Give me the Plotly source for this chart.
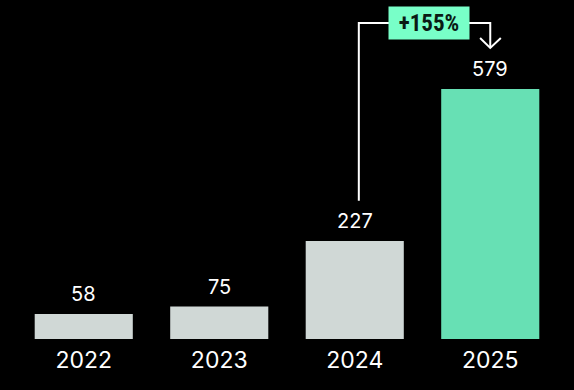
import plotly.graph_objects as go

years = ["2022", "2023", "2024", "2025"]
values = [58, 75, 227, 579]
bar_colors = ["#D0D8D6", "#D0D8D6", "#D0D8D6", "#67E0B4"]
growth_label = "+155%"

fig = go.Figure()
fig.add_trace(go.Bar(
    x=years, y=values, marker=dict(color=bar_colors, line=dict(width=0)),
    width=0.724, hoverinfo="skip",
))

for i, v in enumerate(values):
    fig.add_annotation(x=i, y=v, text=str(v), showarrow=False, yanchor="bottom",
                       yshift=6, font=dict(family="Inter", size=20, color="white"))

# bracket from 2024 to 2025
x0 = 2.03
x1 = 3.0
y_start = values[2] + 93
y_top = 732
y_tip = 674
lw = 2
fig.add_shape(type="path",
              path=f"M {x0},{y_start} L {x0},{y_top} L {x1},{y_top} L {x1},{y_tip}",
              line=dict(color="white", width=lw), xref="x", yref="y")
fig.add_shape(type="path",
              path=f"M {x1-0.075},{y_tip+23} L {x1},{y_tip} L {x1+0.078},{y_tip+23}",
              line=dict(color="white", width=lw), xref="x", yref="y")
fig.add_annotation(x=(x0 + x1) / 2 + 0.03, y=y_top, text=f"<b>{growth_label}</b>", showarrow=False,
                   bgcolor="#78FFC8", width=80, height=32, borderpad=0,
                   font=dict(family="Roboto Condensed, Roboto, Liberation Sans Narrow", size=23, color="#0A1A14"))

fig.update_layout(
    width=574, height=390,
    margin=dict(l=16, r=16, t=20, b=51),
    paper_bgcolor="black", plot_bgcolor="black",
    showlegend=False,
    xaxis=dict(type="category", range=[-0.5, 3.5], showgrid=False, zeroline=False, showline=False,
               ticks="", ticklabelstandoff=5,
               tickfont=dict(family="Inter", size=23, color="white")),
    yaxis=dict(range=[0, 738.8], visible=False),
)
fig.write_html("out.html", config={"displayModeBar": False},
               post_script="document.body.style.margin='0';document.body.style.background='black';")
